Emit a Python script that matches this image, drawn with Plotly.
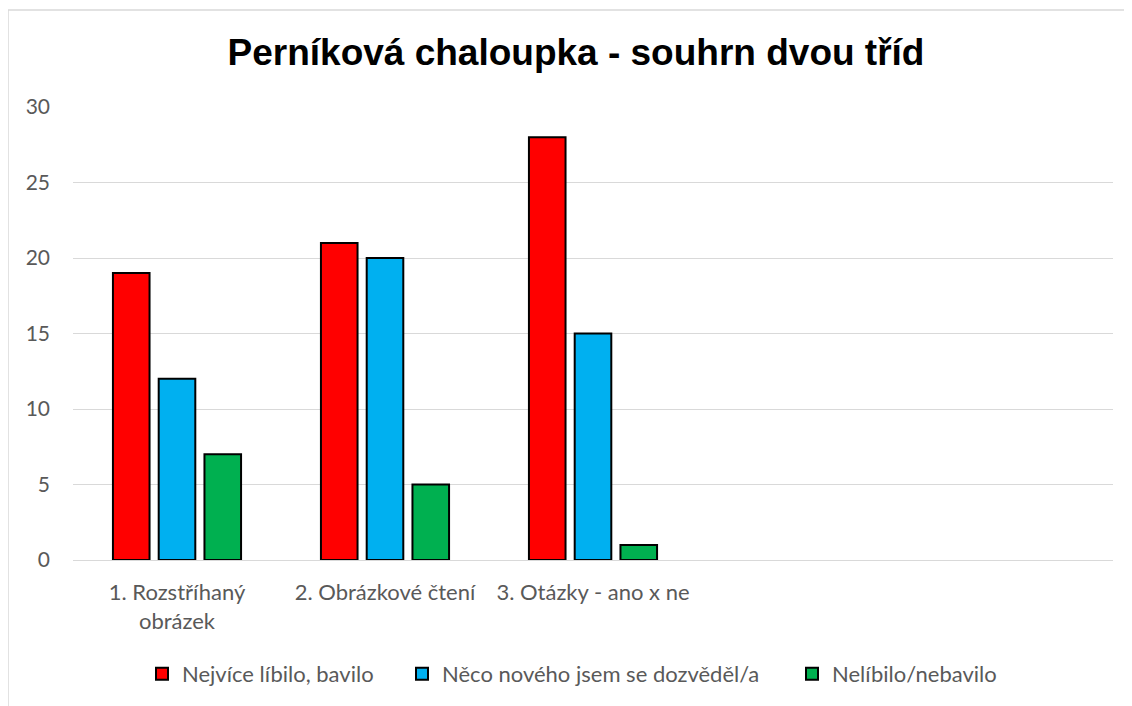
import plotly.graph_objects as go

# Data
categories = ['1. Rozstříhaný<br>obrázek', '2. Obrázkové čtení', '3. Otázky - ano x ne']
series_names = ['Nejvíce líbilo, bavilo', 'Něco nového jsem se dozvěděl/a', 'Nelíbilo/nebavilo']
liked = [19, 21, 28]
learned = [12, 20, 15]
disliked = [7, 5, 1]
colors = ['#FF0000', '#00B0F0', '#00B050']

positions = list(range(len(categories)))
legend_ids = ['legend', 'legend2', 'legend3']
legend_px = [146, 406, 796]   # left edge of each legend swatch (figure px)

fig = go.Figure()
for name, vals, col, lg in zip(series_names, [liked, learned, disliked], colors, legend_ids):
    fig.add_trace(go.Bar(x=positions, y=vals, name=name, legend=lg,
                         marker=dict(color=col, line=dict(color='black', width=2))))

# page is shown with an 8px body offset, so plot area is set 8px up/left
fig.update_layout(
    width=1132, height=706,
    paper_bgcolor='white', plot_bgcolor='white',
    margin=dict(l=65, r=27, t=99, b=154, autoexpand=False),
    barmode='group', bargap=0.34, bargroupgap=0.2,
    title=dict(text='<b>Perníková chaloupka - souhrn dvou tříd</b>',
               x=568/1132, xanchor='center', y=1 - 44/706, yanchor='middle',
               font=dict(family='Liberation Sans, Arial', size=37, color='black')),
    font=dict(family='Lato, sans-serif', color='#595959', size=19),
    showlegend=True,
)
for lg, px_ in zip(legend_ids, legend_px):
    fig.update_layout({lg: dict(orientation='h', x=(px_ - 65 - 12) / 1040, xanchor='left',
                                y=(552 - 666) / 453, yanchor='middle', itemwidth=30,
                                font=dict(size=22, color='#595959'), title='')})

fig.update_xaxes(range=[-0.5, 4.5], tickvals=positions, ticktext=categories,
                 showgrid=False, showline=False, zeroline=False, ticks='',
                 ticklabelstandoff=17,
                 tickfont=dict(size=22, color='#595959'))
fig.update_yaxes(range=[0, 30], dtick=5, showgrid=True, gridcolor='#D9D9D9',
                 gridwidth=1, zeroline=True, zerolinecolor='#D9D9D9', zerolinewidth=1,
                 showline=False, ticks='', ticklabelstandoff=22,
                 tickfont=dict(size=21, color='#595959'))

# chart frame
fig.add_shape(type='rect', xref='paper', yref='paper',
              x0=(0 - 65) / 1040, x1=(1140 - 65) / 1040,
              y0=(552 - 720) / 453, y1=(552 - 2) / 453,
              line=dict(color='#D9D9D9', width=1.5), layer='below')

fig.write_html('out.html')
